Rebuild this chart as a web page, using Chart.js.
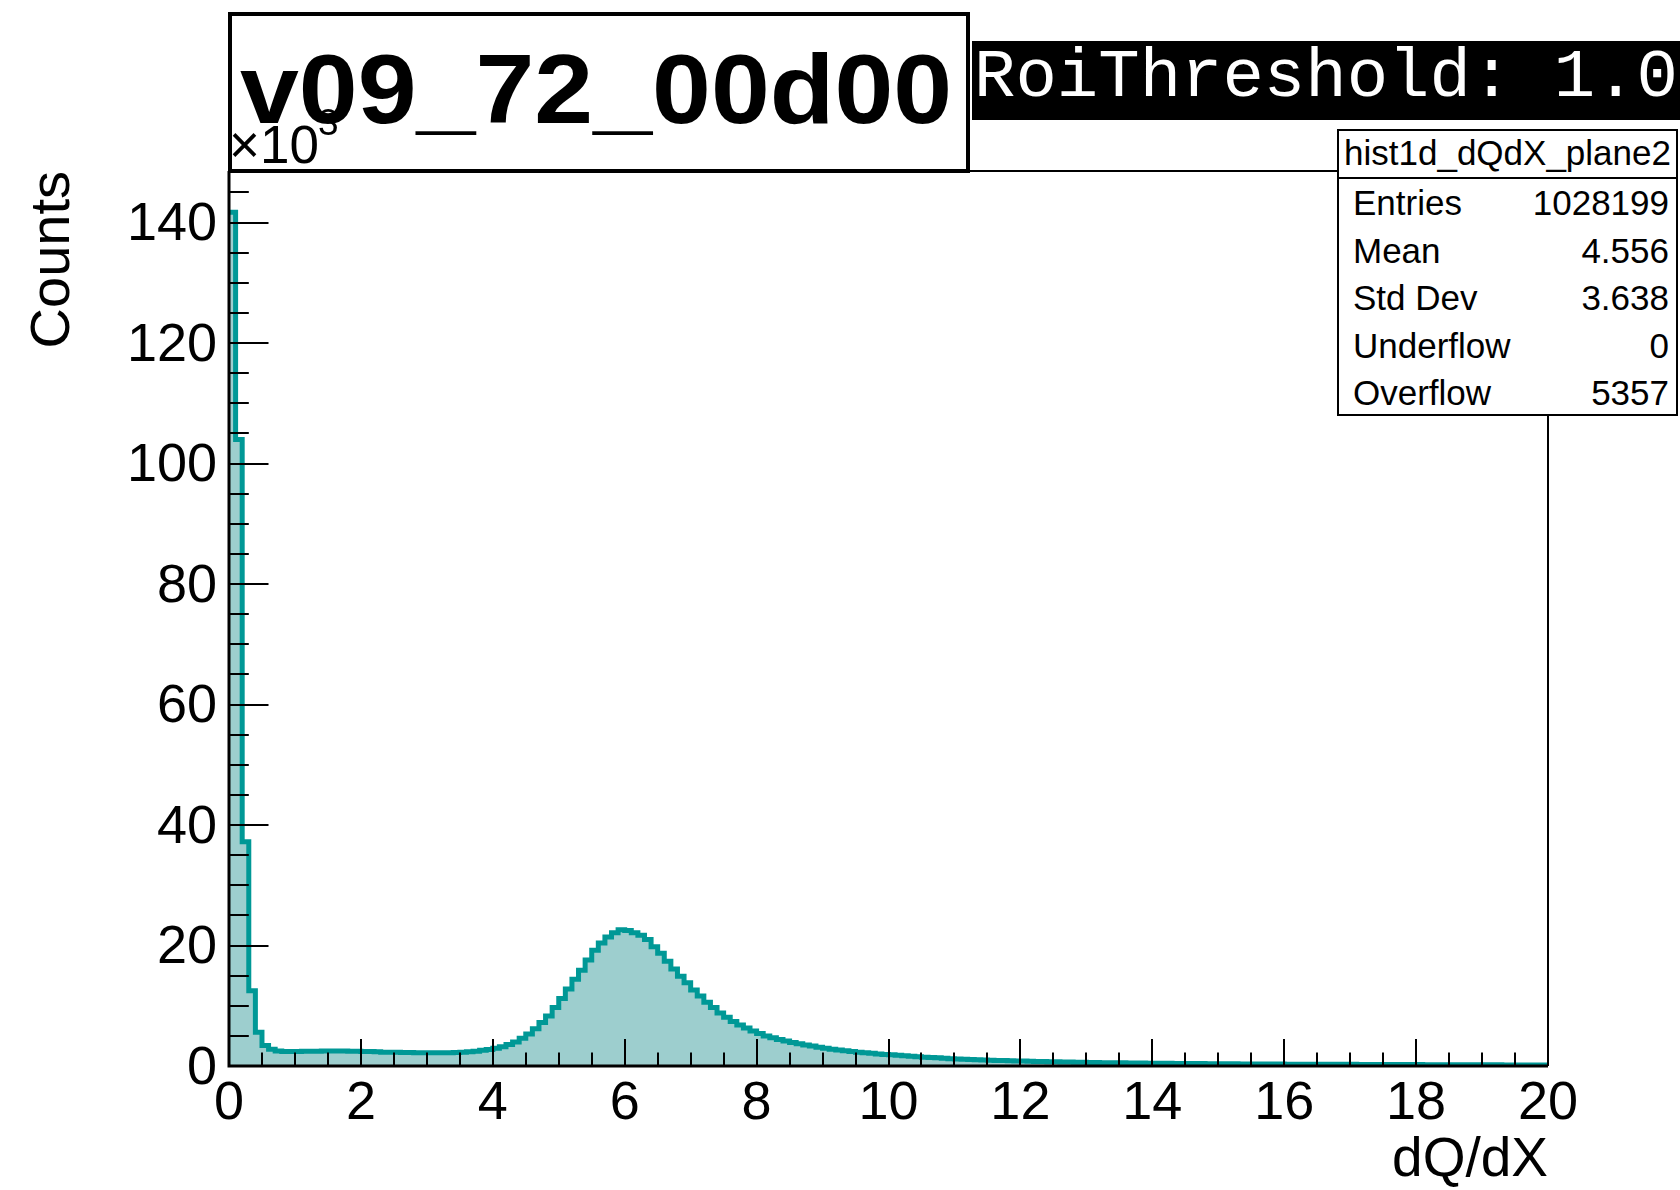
<!DOCTYPE html>
<html>
<head>
<meta charset="utf-8">
<title>hist1d_dQdX_plane2</title>
<script src="https://cdn.jsdelivr.net/npm/chart.js@4.4.1/dist/chart.umd.min.js"></script>
<style>
  body { margin: 0; background: #fff; }
  #wrap { position: relative; width: 1680px; height: 1190px; overflow: hidden; font-family: "Liberation Sans", Arial, sans-serif; }
  #chart { position: absolute; left: 0; top: 0; }
  #title-box { position: absolute; left: 228px; top: 12px; width: 742px; height: 161px; box-sizing: border-box; border: 4px solid #000; background: #fff; }
  #title-text { position: absolute; left: 8px; top: 24px; font: bold 98px/1 "Liberation Sans", Arial, sans-serif; transform: scaleX(1.08); transform-origin: 0 0; white-space: nowrap; }
  .exp { position: absolute; font-family: "Liberation Sans", Arial, sans-serif; line-height: 1; white-space: nowrap; }
  #roi { position: absolute; left: 972px; top: 41px; width: 708px; height: 79px; background: #000; overflow: hidden; }
  #roi span { position: absolute; left: 2px; top: 3px; color: #fff; font: 69px/1 "Liberation Mono", "Courier New", monospace; white-space: pre; }
  #stats { position: absolute; left: 1337px; top: 129px; width: 341px; height: 287px; box-sizing: border-box; border: 2px solid #000; background: #fff; }
  #stats .sep { position: absolute; left: 0; right: 0; top: 46px; border-top: 2px solid #000; }
  #stats .txt { position: absolute; line-height: 1; white-space: nowrap; }
</style>
</head>
<body>
<div id="wrap">
  <canvas id="chart" width="1680" height="1190"></canvas>
  <div id="title-box"><span id="title-text">v09_72_00d00</span></div>
  <span class="exp" style="left:229px; top:118px; font-size:53px;">×10</span>
  <span class="exp" style="left:318px; top:104px; font-size:37px;">3</span>
  <div id="roi"><span>RoiThreshold: 1.0</span></div>
  <div id="stats"></div>
</div>
<script>
// dQ/dX histogram, 200 bins of 0.1 between 0 and 20, counts in units of 10^3
const binWidth = 0.1;
const counts = [
  141.7, 104.0, 37.2, 12.5, 5.6, 3.4, 2.8, 2.5, 2.4, 2.4,
  2.4, 2.45, 2.45, 2.45, 2.5, 2.5, 2.5, 2.5, 2.45, 2.45,
  2.4, 2.4, 2.35, 2.3, 2.3, 2.3, 2.25, 2.25, 2.2, 2.2,
  2.2, 2.2, 2.2, 2.2, 2.25, 2.3, 2.35, 2.45, 2.6, 2.75,
  2.95, 3.2, 3.55, 4.0, 4.6, 5.3, 6.2, 7.2, 8.3, 9.7,
  11.2, 12.8, 14.4, 15.9, 17.6, 19.2, 20.4, 21.4, 22.1, 22.6,
  22.5, 22.1, 21.7, 21.0, 19.8, 18.7, 17.4, 16.1, 14.9, 13.8,
  12.6, 11.6, 10.6, 9.7, 8.8, 8.1, 7.4, 6.8, 6.3, 5.8,
  5.4, 5.0, 4.7, 4.4, 4.15, 3.9, 3.7, 3.5, 3.3, 3.12,
  2.95, 2.8, 2.66, 2.54, 2.42, 2.3, 2.2, 2.1, 2.0, 1.92,
  1.85, 1.77, 1.69, 1.62, 1.55, 1.47, 1.41, 1.35, 1.29, 1.22,
  1.16, 1.12, 1.08, 1.04, 1.0, 0.96, 0.93, 0.9, 0.87, 0.84,
  0.81, 0.79, 0.76, 0.74, 0.72, 0.69, 0.67, 0.65, 0.63, 0.61,
  0.59, 0.58, 0.56, 0.55, 0.53, 0.52, 0.51, 0.49, 0.48, 0.47,
  0.46, 0.45, 0.44, 0.43, 0.42, 0.41, 0.41, 0.4, 0.39, 0.38,
  0.37, 0.37, 0.36, 0.35, 0.35, 0.34, 0.34, 0.33, 0.32, 0.32,
  0.31, 0.31, 0.3, 0.3, 0.29, 0.29, 0.28, 0.28, 0.27, 0.27,
  0.27, 0.26, 0.26, 0.25, 0.25, 0.25, 0.24, 0.24, 0.23, 0.23,
  0.23, 0.22, 0.22, 0.22, 0.21, 0.21, 0.21, 0.2, 0.2, 0.2,
  0.19, 0.19, 0.19, 0.18, 0.18, 0.18, 0.18, 0.17, 0.17, 0.17
];
const xTickValues = [0, 2, 4, 6, 8, 10, 12, 14, 16, 18, 20];
const yTickValues = [0, 20, 40, 60, 80, 100, 120, 140];
const statLabels = ["Entries", "Mean", "Std Dev", "Underflow", "Overflow"];
const statValues = ["1028199", "4.556", "3.638", "0", "5357"];

const LINE = "rgb(0,152,150)";
const FILL = "rgb(157,206,206)";
const FONT = "'Liberation Sans', Arial, sans-serif";

// stats box
const stats = document.getElementById("stats");
stats.innerHTML = '<div class="sep"></div>' +
  '<span class="txt" style="left:0;width:337px;text-align:center;top:4px;font-size:35px;">hist1d_dQdX_plane2</span>';
statLabels.forEach((lab, i) => {
  const top = 54 + i * 47.5;
  stats.innerHTML +=
    `<span class="txt" style="left:14px;top:${top}px;font-size:35px;">${lab}</span>` +
    `<span class="txt" style="right:7px;top:${top}px;font-size:35px;">${statValues[i]}</span>`;
});

// step outline: each bin holds its value until the next edge
const points = counts.map((c, i) => ({ x: +(i * binWidth).toFixed(1), y: c }));
points.push({ x: 20, y: counts[counts.length - 1] });

// ROOT style frame with ticks pointing inside
const frameTicks = {
  id: "frameTicks",
  afterDatasetsDraw(chart) {
    const { ctx, chartArea: a, scales: { x, y } } = chart;
    ctx.save();
    ctx.strokeStyle = "#000";
    ctx.lineWidth = 2;
    for (let i = 0; i <= 40; i++) {
      const px = Math.round(x.getPixelForValue(i * 0.5));
      const len = i % 4 === 0 ? 27 : 13.5;
      ctx.beginPath();
      ctx.moveTo(px, a.bottom);
      ctx.lineTo(px, a.bottom - len);
      ctx.stroke();
    }
    for (let i = 0; i <= 29; i++) {
      const py = Math.round(y.getPixelForValue(i * 5));
      const len = i % 4 === 0 ? 39.5 : 19.8;
      ctx.beginPath();
      ctx.moveTo(a.left, py);
      ctx.lineTo(a.left + len, py);
      ctx.stroke();
    }
    // top and right edges
    ctx.beginPath();
    ctx.moveTo(a.left, a.top);
    ctx.lineTo(a.right, a.top);
    ctx.lineTo(a.right, a.bottom);
    ctx.stroke();
    // axis lines
    ctx.lineWidth = 3;
    ctx.beginPath();
    ctx.moveTo(a.left, a.top);
    ctx.lineTo(a.left, a.bottom);
    ctx.lineTo(a.right, a.bottom);
    ctx.stroke();
    ctx.restore();
  }
};

new Chart(document.getElementById("chart"), {
  type: "line",
  data: {
    datasets: [{
      data: points,
      stepped: true,
      borderColor: LINE,
      backgroundColor: FILL,
      fill: "origin",
      borderWidth: 5,
      pointRadius: 0,
    }]
  },
  options: {
    responsive: false,
    animation: false,
    devicePixelRatio: 1,
    layout: { padding: { top: 171, right: 132, bottom: 0, left: 0 } },
    plugins: { legend: { display: false }, tooltip: { enabled: false } },
    scales: {
      x: {
        type: "linear",
        min: 0,
        max: 20,
        afterBuildTicks: s => { s.ticks = xTickValues.map(v => ({ value: v })); },
        afterFit: s => { s.height = 124; },
        grid: { display: false, drawTicks: false },
        border: { display: false },
        ticks: { color: "#000", padding: 11, maxRotation: 0, autoSkip: false,
                 font: { family: FONT, size: 54, lineHeight: 1 } },
        title: { display: true, text: "dQ/dX", align: "end", color: "#000",
                 font: { family: FONT, size: 55, lineHeight: 1 }, padding: { top: 0, bottom: 1.5 } }
      },
      y: {
        min: 0,
        max: 148.55,
        afterBuildTicks: s => { s.ticks = yTickValues.map(v => ({ value: v })); },
        afterFit: s => { s.width = 229; },
        grid: { display: false, drawTicks: false },
        border: { display: false },
        ticks: { color: "#000", padding: 12, labelOffset: 3, autoSkip: false,
                 font: { family: FONT, size: 54, lineHeight: 1 } },
        title: { display: true, text: "Counts", align: "end", color: "#000",
                 font: { family: FONT, size: 56, lineHeight: 1 }, padding: { top: 26, bottom: 0 } }
      }
    }
  },
  plugins: [frameTicks]
});
</script>
</body>
</html>
